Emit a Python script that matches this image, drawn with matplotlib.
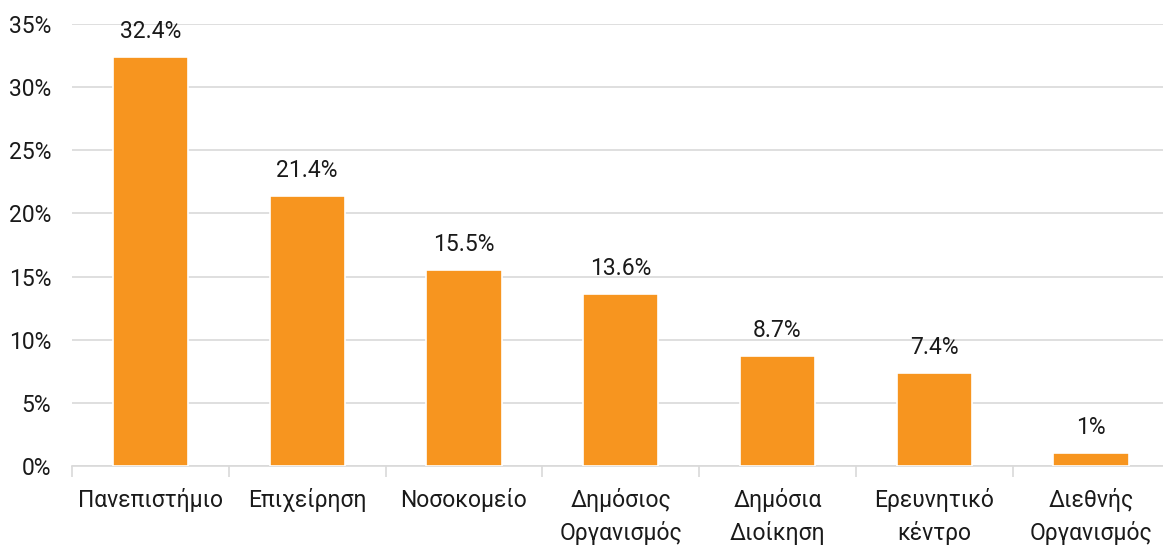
import matplotlib
matplotlib.use("Agg")
import matplotlib.pyplot as plt
from matplotlib.ticker import FuncFormatter

categories = ["Πανεπιστήμιο", "Επιχείρηση", "Νοσοκομείο", "Δημόσιος\nΟργανισμός",
              "Δημόσια\nΔιοίκηση", "Ερευνητικό\nκέντρο", "Διεθνής\nΟργανισμός"]
values = [32.4, 21.4, 15.5, 13.6, 8.7, 7.4, 1.0]
value_labels = ["32.4%", "21.4%", "15.5%", "13.6%", "8.7%", "7.4%", "1%"]
yticks = [0, 5, 10, 15, 20, 25, 30, 35]

plt.rcParams['font.family'] = ['Roboto', 'DejaVu Sans']

fig = plt.figure(figsize=(11.63, 5.45), dpi=100)
ax = fig.add_axes([0.0619, 0.145, 0.9437, 0.811])

x = list(range(len(categories)))
bars = ax.bar(x, values, width=0.48, color='#F7951F', edgecolor='white', linewidth=1.2, zorder=3)

for xi, v, lab in zip(x, values, value_labels):
    ax.annotate(lab, (xi, v), xytext=(0, 10), textcoords='offset points',
                ha='center', va='bottom', fontsize=16.5, color='#1a1a1a')

ax.set_xlim(-0.5, len(categories) - 0.5)
ax.set_ylim(0, 35)
ax.set_yticks(yticks)
ax.yaxis.set_major_formatter(FuncFormatter(lambda v, p: f"{v:.0f}%"))
ax.grid(axis='y', color='#d9d9d9', linewidth=1.2, zorder=0)
ax.set_axisbelow(True)

ax.set_xticks(x)
ax.set_xticklabels(categories, fontsize=16.5, color='#1a1a1a', linespacing=1.45)
ax.tick_params(axis='x', length=0, pad=16)
ax.tick_params(axis='y', length=0, labelsize=16.5, labelcolor='#1a1a1a', pad=15)

# boundary ticks between categories
ax.set_xticks([i - 0.5 for i in range(len(categories) + 1)], minor=True)
ax.tick_params(axis='x', which='minor', length=8, color='#d9d9d9', width=1.2)

for s in ['top', 'right', 'left']:
    ax.spines[s].set_visible(False)
ax.spines['bottom'].set_color('#d9d9d9')
ax.spines['bottom'].set_linewidth(1.2)

fig.savefig("out.png", dpi=100)
